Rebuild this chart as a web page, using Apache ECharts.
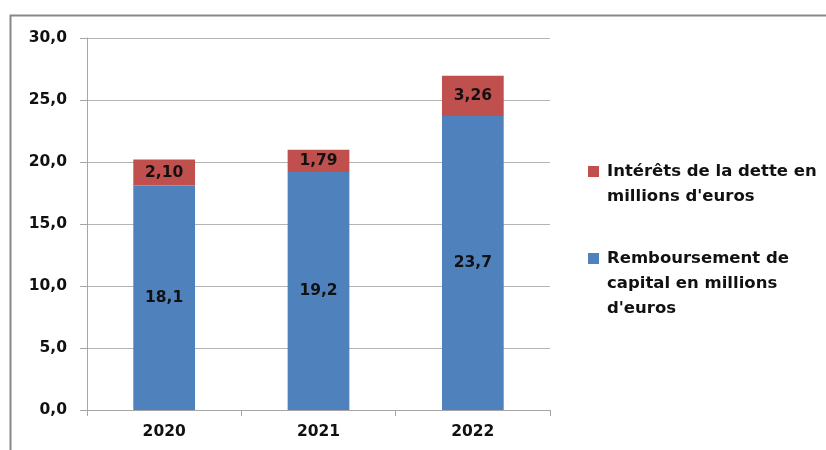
<!DOCTYPE html>
<html>
<head>
<meta charset="utf-8">
<script src="https://cdn.jsdelivr.net/npm/echarts@6/dist/echarts.min.js"></script>
<style>
  html, body { margin: 0; padding: 0; background: #fff; }
  #chart { width: 826px; height: 450px; }
</style>
</head>
<body>
<div id="chart"></div>
<script>
// Annual debt service, in millions of euros
var years = ['2020', '2021', '2022'];
var capital = [18.1, 19.2, 23.7];
var interets = [2.10, 1.79, 3.26];
var yTicks = { min: 0, max: 30, interval: 5 };

var nameInterets = "Intérêts de la dette en millions d'euros";
var nameCapital = "Remboursement de capital en millions d'euros";

var FONT = 'DejaVu Sans';
var frFmt = function (v, d) { return v.toFixed(d).replace('.', ','); };

var chart = echarts.init(document.getElementById('chart'));

var legendText = {
  fontFamily: FONT, fontWeight: 'bold', fontSize: 16.5, color: '#111', lineHeight: 25,
  padding: [0, 0, 0, 3]
};

chart.setOption({
  animation: false,
  backgroundColor: '#fff',
  graphic: [{
    type: 'rect', left: 8, top: 13, silent: true,
    shape: { width: 830, height: 460 },
    style: { fill: 'none', stroke: '#888', lineWidth: 2 }
  }],
  legend: [{
    data: [nameInterets], orient: 'vertical', left: 588, top: 134, padding: 0,
    icon: 'rect', itemWidth: 11, itemHeight: 11, itemGap: 0, selectedMode: false,
    formatter: function () { return '\nIntérêts de la dette en\nmillions d\'euros'; },
    textStyle: legendText
  }, {
    data: [nameCapital], orient: 'vertical', left: 588, top: 196, padding: 0,
    icon: 'rect', itemWidth: 11, itemHeight: 11, itemGap: 0, selectedMode: false,
    formatter: function () { return '\n\nRemboursement de\ncapital en millions\nd\'euros'; },
    textStyle: legendText
  }],
  grid: { left: 87, top: 38, right: 276, bottom: 40, containLabel: false },
  xAxis: {
    type: 'category', data: years,
    axisLine: { lineStyle: { color: '#a6a6a6', width: 1 } },
    axisTick: { show: true, length: 6, interval: 0, lineStyle: { color: '#a6a6a6' } },
    axisLabel: { margin: 14, fontFamily: FONT, fontWeight: 'bold', fontSize: 15.5, color: '#111' }
  },
  yAxis: {
    type: 'value', min: yTicks.min, max: yTicks.max, interval: yTicks.interval,
    axisLine: { show: true, lineStyle: { color: '#a6a6a6', width: 1 } },
    axisTick: { show: true, length: 7, lineStyle: { color: '#a6a6a6' } },
    splitLine: { lineStyle: { color: '#b4b4b4', width: 1 } },
    axisLabel: {
      margin: 20, fontFamily: FONT, fontWeight: 'bold', fontSize: 15.5, color: '#111',
      formatter: function (v) { return frFmt(v, 1); }
    }
  },
  series: [{
    name: nameCapital, type: 'bar', stack: 'total', data: capital,
    barCategoryGap: '60%',
    itemStyle: { color: '#4F81BD' },
    label: {
      show: true, position: 'inside', fontFamily: FONT, fontWeight: 'bold', fontSize: 15.5, color: '#111',
      formatter: function (p) { return frFmt(p.value, 1); }
    }
  }, {
    name: nameInterets, type: 'bar', stack: 'total', data: interets,
    barCategoryGap: '60%',
    itemStyle: { color: '#C0504D' },
    label: {
      show: true, position: 'inside', fontFamily: FONT, fontWeight: 'bold', fontSize: 15.5, color: '#111',
      formatter: function (p) { return frFmt(p.value, 2); }
    }
  }]
});
</script>
</body>
</html>
